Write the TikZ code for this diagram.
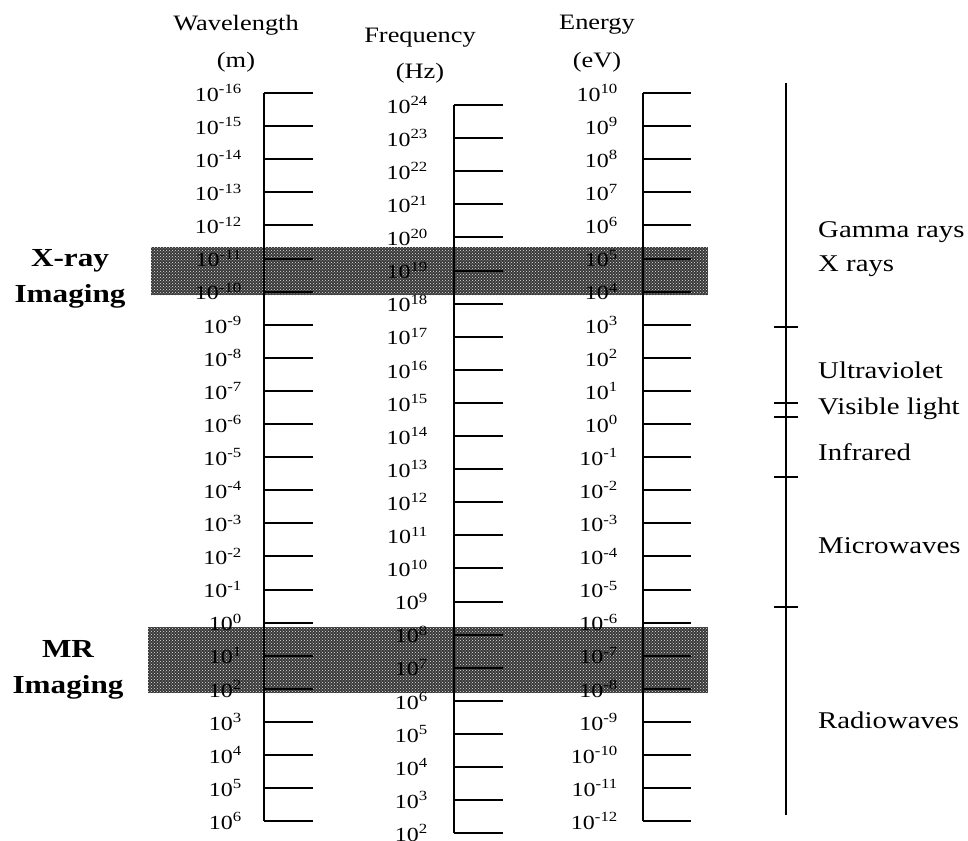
\documentclass[tikz,border=0pt]{standalone}
\usepackage{fontspec}
\setmainfont{Liberation Serif}[FakeStretch=1.2]
\usetikzlibrary{patterns}

\begin{document}
\begin{tikzpicture}[x=1pt, y=-1pt,
  axis/.style={line width=2pt},
  tick/.style={line width=2pt},
  num/.style={anchor=east, inner sep=0pt, font=\fontsize{20}{20}\selectfont},
  head/.style={inner sep=0pt, font=\fontsize{22}{22}\selectfont},
  band/.style={fill=black!78},
  dots/.style={pattern=crosshatch dots, pattern color=white!90!black},
  tag/.style={anchor=base, inner sep=0pt, font=\fontsize{26}{26}\selectfont\bfseries},
  region/.style={anchor=west, inner sep=0pt, font=\fontsize{24}{24}\selectfont}
]
  \useasboundingbox (0,0) rectangle (968,840);

  % Imaging bands
  \fill[band] (151,247) rectangle (708,295);
  \fill[dots] (151,247) rectangle (708,295);
  \fill[band] (148,627) rectangle (708,693);
  \fill[dots] (148,627) rectangle (708,693);

  \node[tag] (xr) at (70,266) {X-ray};
  \node[tag] (xi) at (70,302) {Imaging};
  \node[tag] (mr) at (68,657) {MR};
  \node[tag] (mi) at (68,693) {Imaging};

  % Column heads
  \node[head] (wlh) at (236,25) {Wavelength};
  \node[head] (wlu) at (236,62) {(m)};
  \node[head] (frh) at (420,38) {Frequency};
  \node[head] (fru) at (420,73) {(Hz)};
  \node[head] (enh) at (597,25) {Energy};
  \node[head] (enu) at (597,62) {(eV)};

  % Wavelength scale
  \foreach \k in {0,...,22} {
    \pgfmathtruncatemacro{\e}{\k-16}
    \draw[tick] (264,{93+33.1*\k}) -- (313,{93+33.1*\k});
    \node[num] (wl\k) at (242,{93+33.1*\k}) {10\textsuperscript{\e}};
  }
  \draw[axis] (264,93) -- (264,821);

  % Frequency scale
  \foreach \k in {0,...,22} {
    \pgfmathtruncatemacro{\e}{24-\k}
    \draw[tick] (454,{105+33.1*\k}) -- (503,{105+33.1*\k});
    \node[num] (fr\k) at (428,{105+33.1*\k}) {10\textsuperscript{\e}};
  }
  \draw[axis] (454,105) -- (454,833);

  % Energy scale
  \foreach \k in {0,...,22} {
    \pgfmathtruncatemacro{\e}{10-\k}
    \draw[tick] (643,{93+33.1*\k}) -- (691,{93+33.1*\k});
    \node[num] (en\k) at (618,{93+33.1*\k}) {10\textsuperscript{\e}};
  }
  \draw[axis] (643,93) -- (643,821);

  % Spectrum
  \draw[axis] (786,83) -- (786,815);
  \foreach \y in {327,403,417,477,607}
    \draw[tick] (774,\y) -- (798,\y);

  \node[region] (gam) at (818,232) {Gamma rays};
  \node[region] (xry) at (818,266) {X rays};
  \node[region] (uv)  at (818,370) {Ultraviolet};
  \node[region] (vis) at (818,409) {Visible light};
  \node[region] (ir)  at (818,452) {Infrared};
  \node[region] (mw)  at (818,546) {Microwaves};
  \node[region] (rw)  at (818,720) {Radiowaves};
\end{tikzpicture}
\end{document}
